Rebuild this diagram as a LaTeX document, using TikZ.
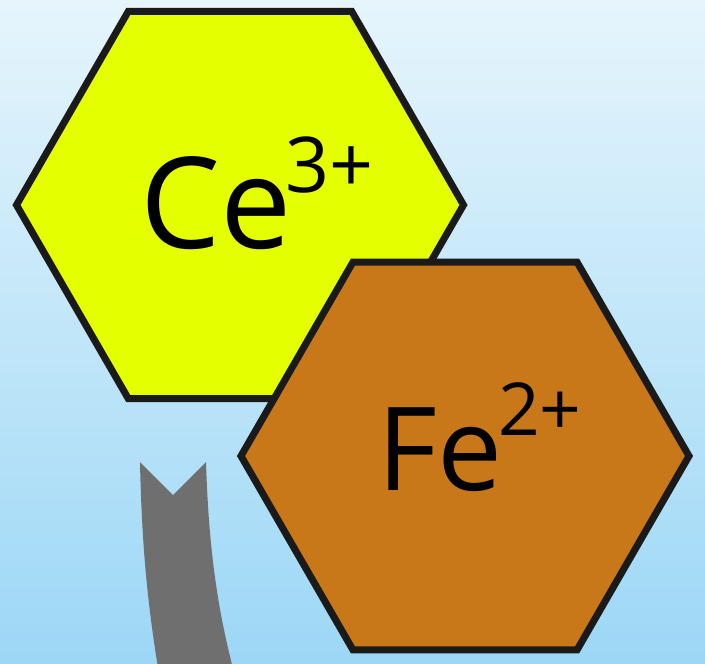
\documentclass[tikz,border=0pt]{standalone}
\usepackage{fontspec}
\setsansfont{Open Sans}
\usetikzlibrary{shapes.geometric}
\definecolor{skytop}{RGB}{230,245,252}
\definecolor{skybot}{RGB}{156,215,246}
\definecolor{ceyellow}{RGB}{228,255,0}
\definecolor{febrown}{RGB}{200,120,24}
\definecolor{arrowgray}{RGB}{111,111,111}
\definecolor{edgeblack}{RGB}{26,26,26}
\tikzset{
  hexa/.style={draw=edgeblack, line width=7pt, regular polygon, regular polygon sides=6, minimum size=#1, inner sep=0pt, outer sep=0pt},
  ion/.style={font=\sffamily, inner sep=0pt, anchor=base west, text=black},
}
\begin{document}
\begin{tikzpicture}[x=1pt,y=-1pt]
\fill[top color=skytop, bottom color=skybot] (0,0) rectangle (705,664);
\useasboundingbox (0,0) rectangle (705,664);
% hexagons
\node[hexa=447pt, fill=ceyellow] (ce) at (240,205) {};
\node[hexa=448pt, fill=febrown] (fe) at (465,456) {};
% labels
\node[ion] (celabel) at (140,248) {\fontsize{127}{127}\selectfont Ce\kern-6pt\raisebox{56pt}{\fontsize{77}{77}\selectfont 3+}};
\node[ion] (felabel) at (377,490) {\fontsize{116}{116}\selectfont Fe\kern-4pt\raisebox{55pt}{\fontsize{73}{73}\selectfont 2+}};
% gray arrow tail
\begin{scope}
\clip (0,0) rectangle (705,664);
\fill[arrowgray] (140,462) -- (173,495) -- (206,462)
  .. controls (209,560) and (220,620) .. (236,680) -- (160,680)
  .. controls (150,620) and (142,560) .. cycle;
\end{scope}
\end{tikzpicture}
\end{document}
